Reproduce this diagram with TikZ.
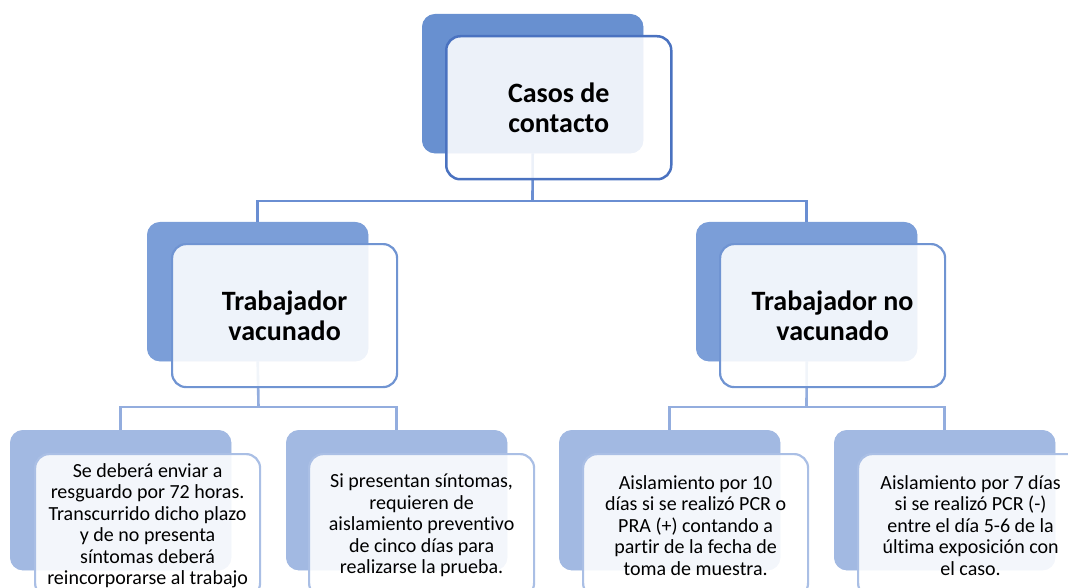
\documentclass[tikz,border=0pt]{standalone}
\usepackage{fontspec}
\setmainfont{Carlito}[Ligatures=NoCommon]
\definecolor{backA}{HTML}{6890D0}
\definecolor{lineA}{HTML}{4A72C0}
\definecolor{connA}{HTML}{6A8ED2}
\definecolor{backB}{HTML}{7B9ED8}
\definecolor{lineB}{HTML}{7094D2}
\definecolor{connB}{HTML}{93ADDE}
\definecolor{backC}{HTML}{A2B9E2}
\definecolor{lineC}{HTML}{AABFE5}
\begin{document}
\begin{tikzpicture}[x=1pt,y=-1pt,
  backbox/.style={rounded corners=13pt, inner sep=0pt, anchor=north west, draw=none, minimum width=221pt, minimum height=139pt},
  frontbox/.style={rounded corners=14pt, fill=white, fill opacity=0.88, text opacity=1, anchor=north west, align=center, inner sep=0pt, minimum width=225pt, minimum height=143pt, text=black},
  lvA/.style={font=\fontsize{28}{30}\selectfont\bfseries},
  lvC/.style={font=\fontsize{20}{21.5}\selectfont},
  connOne/.style={draw=connA, line width=2.6pt},
  connTwo/.style={draw=connB, line width=2.6pt}]
\useasboundingbox (0,0) rectangle (1068,588);
\clip (0,0) rectangle (1068,588);
% junctions
\coordinate (j1) at (532.5,201);
\coordinate (j2) at (258.5,407);
\coordinate (j3) at (806.5,407);
% back boxes (named, used as connector ends)
\node[backbox, fill=backA] (b1) at (422,14) {};
\node[backbox, fill=backB] (b2) at (147,222) {};
\node[backbox, fill=backB] (b3) at (696,222) {};
\node[backbox, fill=backC, minimum height=140pt] (c1) at (10,430) {};
\node[backbox, fill=backC, minimum height=140pt] (c2) at (286,430) {};
\node[backbox, fill=backC, minimum height=140pt] (c3) at (559,430) {};
\node[backbox, fill=backC, minimum height=140pt] (c4) at (834,430) {};
% connectors
\draw[connOne] (b1.south) -- (j1);
\draw[connOne] (j1) -| (b2.north);
\draw[connOne] (j1) -| (b3.north);
\draw[connTwo] (b2.south) -- (j2);
\draw[connTwo] (j2) -| (c1.north);
\draw[connTwo] (j2) -| (c2.north);
\draw[connTwo] (b3.south) -- (j3);
\draw[connTwo] (j3) -| (c3.north);
\draw[connTwo] (j3) -| (c4.north);
% repaint back boxes over connector ends
\fill[backA, rounded corners=13pt] (b1.north west) rectangle (b1.south east);
\fill[backB, rounded corners=13pt] (b2.north west) rectangle (b2.south east);
\fill[backB, rounded corners=13pt] (b3.north west) rectangle (b3.south east);
\fill[backC, rounded corners=13pt] (c1.north west) rectangle (c1.south east);
\fill[backC, rounded corners=13pt] (c2.north west) rectangle (c2.south east);
\fill[backC, rounded corners=13pt] (c3.north west) rectangle (c3.south east);
\fill[backC, rounded corners=13pt] (c4.north west) rectangle (c4.south east);
% front boxes
\node[frontbox, draw=lineA, line width=2.5pt, lvA] (f1) at (445,35) {Casos de\\contacto};
\node[frontbox, draw=lineB, line width=2.2pt, lvA] (f2) at (171,243) {Trabajador\\vacunado};
\node[frontbox, draw=lineB, line width=2.2pt, lvA] (f3) at (719,243) {Trabajador no\\vacunado};
\node[frontbox, draw=lineC, line width=2.2pt, lvC] (g1) at (34,453) {Se deberá enviar a\\resguardo por 72 horas.\\Transcurrido dicho plazo\\y de no presenta\\síntomas deberá\\reincorporarse al trabajo};
\node[frontbox, draw=lineC, line width=2.2pt, lvC] (g2) at (308,453) {Si presentan síntomas,\\requieren de\\aislamiento preventivo\\de cinco días para\\realizarse la prueba.};
\node[frontbox, draw=lineC, line width=2.2pt, lvC] (g3) at (582,453) {Aislamiento por 10\\días si se realizó PCR o\\PRA (+) contando a\\partir de la fecha de\\toma de muestra.};
\node[frontbox, draw=lineC, line width=2.2pt, lvC] (g4) at (857,453) {Aislamiento por 7 días\\si se realizó PCR (-)\\entre el día 5-6 de la\\última exposición con\\el caso.};
\end{tikzpicture}
\end{document}
